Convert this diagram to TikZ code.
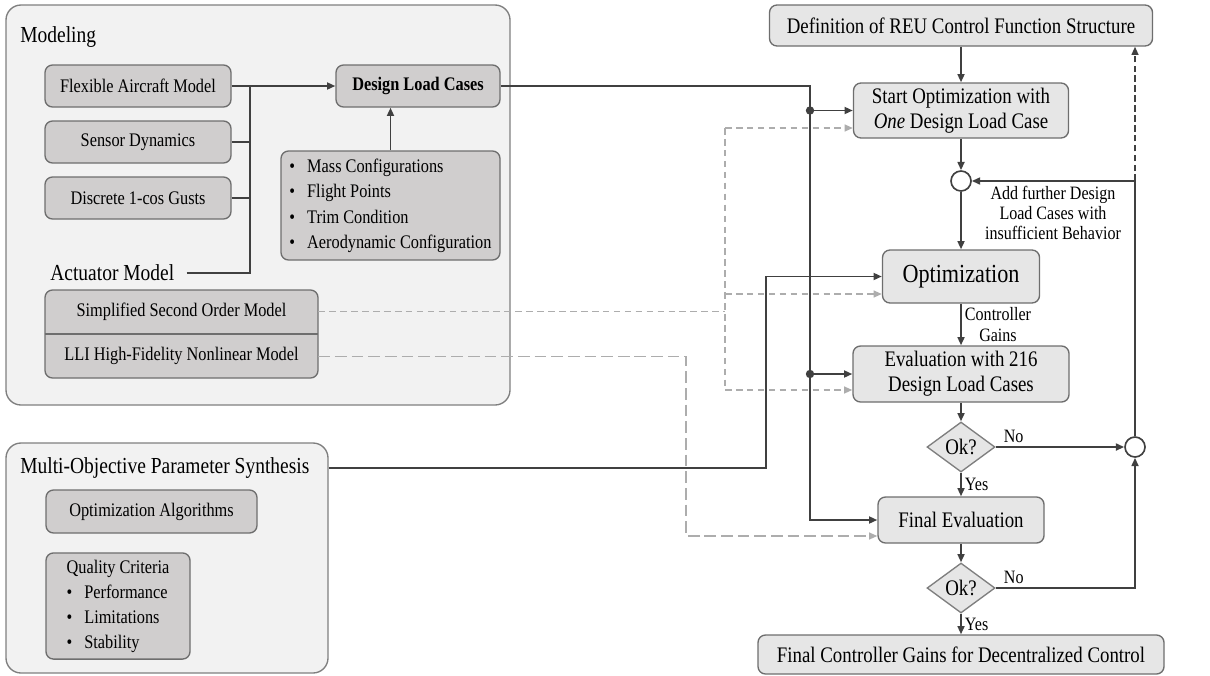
\documentclass[tikz,border=0pt]{standalone}
\usepackage{fontspec}
\setmainfont{Liberation Serif}[FakeStretch=0.85]
\usetikzlibrary{arrows.meta,shapes.geometric}

\newlength\pxu
\setlength\pxu{0.667pt}

\definecolor{framefill}{HTML}{F2F2F2}
\definecolor{framedraw}{HTML}{7F7F7F}
\definecolor{boxfill}{HTML}{D0CECE}
\definecolor{boxdraw}{HTML}{6E6E6E}
\definecolor{flowfill}{HTML}{E6E6E6}
\definecolor{linegray}{HTML}{404040}
\definecolor{lightline}{HTML}{ADADAD}

\newcommand\fsInner{\fontsize{12.8}{16.7}\selectfont}
\newcommand\fsFlow{\fontsize{14.8}{16.7}\selectfont}
\newcommand\fsHead{\fontsize{15.3}{18}\selectfont}
\newcommand\fsOpt{\fontsize{17.4}{20}\selectfont}
\newcommand\fsNote{\fontsize{12.6}{13.5}\selectfont}

\tikzset{
  frame/.style={draw=framedraw, fill=framefill, line width=0.9pt, rounded corners=10pt},
  inbox/.style={draw=boxdraw, fill=boxfill, line width=0.9pt, rounded corners=5pt, font=\fsInner, align=center, inner sep=2pt},
  flowbox/.style={draw=boxdraw, fill=flowfill, line width=0.9pt, rounded corners=5pt, font=\fsFlow, align=center, inner sep=2pt},
  decision/.style={diamond, draw=framedraw, fill=flowfill, line width=0.9pt, aspect=1.36, minimum width=68\pxu, minimum height=50\pxu, inner sep=0pt, font=\fsFlow},
  sumnode/.style={circle, draw=linegray, fill=white, line width=1.1pt, minimum size=20\pxu, inner sep=0pt},
  wire/.style={draw=linegray, line width=1.3pt},
  conn/.style={wire, -{Triangle[length=5.5pt,width=4.6pt]}},
  lightdash/.style={draw=lightline, line width=1.1pt, dash pattern=on 4.4pt off 2.9pt},
  lighttip/.style={-{Triangle[length=5.5pt,width=4.6pt]}},
  longdash/.style={draw=lightline, line width=1.1pt, dash pattern=on 7.8pt off 3.3pt},
  darkdash/.style={draw=linegray, line width=1.1pt, dash pattern=on 4.4pt off 2.2pt, -{Triangle[length=5.5pt,width=4.6pt]}},
  note/.style={font=\fsNote, inner sep=2pt}
}

\begin{document}
\begin{tikzpicture}[x=\pxu, y=-\pxu]
  \useasboundingbox (0,0) rectangle (1210,675);

  % modeling block
  \node[frame, minimum width=504\pxu, minimum height=400\pxu] (modframe) at (258,205) {};
  \node[font=\fsHead, anchor=west, inner sep=0pt] (modtitle) at (20,37) {Modeling};
  \node[inbox, minimum width=186\pxu, minimum height=42\pxu] (flexible) at (138,86) {Flexible Aircraft Model};
  \node[inbox, minimum width=186\pxu, minimum height=42\pxu] (sensor) at (138,142) {Sensor Dynamics};
  \node[inbox, minimum width=186\pxu, minimum height=42\pxu] (gusts) at (138,198) {Discrete 1-cos Gusts};
  \node[inbox, minimum width=164\pxu, minimum height=42\pxu, font=\fsInner\bfseries] (dlc) at (418,86) {Design Load Cases};
  \node[inbox, minimum width=219\pxu, minimum height=109\pxu] (params) at (390.5,205.5) {%
    \begin{tabular}{@{}l@{\hspace{8pt}}l@{}}
      \textbullet & Mass Configurations\\
      \textbullet & Flight Points\\
      \textbullet & Trim Condition\\
      \textbullet & Aerodynamic Configuration
    \end{tabular}};
  \node[font=\fsHead, anchor=west, inner sep=0pt] (acttitle) at (50,273) {Actuator Model};
  \node[inbox, minimum width=273\pxu, minimum height=88\pxu] (actbox) at (181.5,334) {};
  \node[font=\fsInner, minimum width=273\pxu, minimum height=44\pxu, inner sep=0pt, anchor=north] (simple) at (actbox.north) {Simplified Second Order Model};
  \node[font=\fsInner, minimum width=273\pxu, minimum height=44\pxu, inner sep=0pt, anchor=south] (lli) at (actbox.south) {LLI High-Fidelity Nonlinear Model};
  \draw[draw=boxdraw, line width=0.9pt] (simple.south west) -- (simple.south east);

  % synthesis block
  \node[frame, minimum width=322\pxu, minimum height=230\pxu] (mopsframe) at (167,558) {};
  \node[font=\fsHead, anchor=west, inner sep=0pt] (mopstitle) at (20,468) {Multi-Objective Parameter Synthesis};
  \node[inbox, minimum width=211\pxu, minimum height=43\pxu] (algos) at (151.5,511.5) {Optimization Algorithms};
  \node[inbox, minimum width=144\pxu, minimum height=106\pxu] (quality) at (118,606) {%
    \begin{tabular}{@{}l@{\hspace{8pt}}l@{}}
      \multicolumn{2}{@{}c@{}}{Quality Criteria}\\
      \textbullet & Performance\\
      \textbullet & Limitations\\
      \textbullet & Stability
    \end{tabular}};

  % optimization flow
  \node[flowbox, minimum width=383\pxu, minimum height=41\pxu] (define) at (961,25.5) {Definition of REU Control Function Structure};
  \node[flowbox, minimum width=215\pxu, minimum height=55\pxu] (start) at (961,110.5) {Start Optimization with\\\textit{One} Design Load Case};
  \node[sumnode] (sum1) at (961,181) {};
  \node[flowbox, minimum width=157\pxu, minimum height=53\pxu, font=\fsOpt] (optim) at (961,276.5) {Optimization};
  \node[flowbox, minimum width=216\pxu, minimum height=56\pxu] (evalbox) at (961,374) {Evaluation with 216\\Design Load Cases};
  \node[decision] (ok1) at (961,447) {Ok?};
  \node[sumnode] (sum2) at (1135,447) {};
  \node[flowbox, minimum width=166\pxu, minimum height=46\pxu] (finaleval) at (961,520) {Final Evaluation};
  \node[decision] (ok2) at (961,588) {Ok?};
  \node[flowbox, minimum width=406\pxu, minimum height=39\pxu] (final) at (961,654.5) {Final Controller Gains for Decentralized Control};
  \node[note, align=center] (addnote) at (1053,213) {Add further Design\\Load Cases with\\insufficient Behavior};

  % modeling connections
  \coordinate (bus) at (250,86);
  \coordinate (busend) at (250,273);
  \draw[conn] (flexible.east) -- (dlc.west);
  \draw[wire] (sensor.east) -- (sensor.east -| bus);
  \draw[wire] (gusts.east) -- (gusts.east -| bus);
  \draw[wire] ([xshift=8pt]acttitle.east) -- (busend) -- (bus);
  \draw[conn] (params.north) -- (params.north |- dlc.south);

  % load cases trunk
  \coordinate (trunk) at (810,86);
  \draw[conn] (dlc.east) -- (trunk) |- (finaleval.west);
  \fill[linegray] (start.west -| trunk) circle[radius=2.8pt];
  \draw[conn] (start.west -| trunk) -- (start.west);
  \fill[linegray] (evalbox.west -| trunk) circle[radius=2.8pt];
  \draw[conn] (evalbox.west -| trunk) -- (evalbox.west);

  % actuator models
  \coordinate (d1) at (725,128);
  \coordinate (d2) at (725,294);
  \coordinate (d3) at (725,390);
  \draw[lightdash] (simple.east) -- (simple.east -| d1);
  \draw[lightdash] (d1) -- (d3);
  \draw[lightdash, lighttip] (d1) -- (d1 -| start.west);
  \draw[lightdash, lighttip] (d2) -- (d2 -| optim.west);
  \draw[lightdash, lighttip] (d3) -- (d3 -| evalbox.west);
  \coordinate (lcorner) at (686,536);
  \draw[longdash, lighttip] (lli.east) -| (lcorner) -- (lcorner -| finaleval.west);

  % synthesis into optimization
  \coordinate (mcorner) at (766,276.5);
  \draw[conn] (mopsframe.east |- mopstitle) -| (mcorner) -- (optim.west);

  % flow
  \draw[conn] (define.south) -- (start.north);
  \draw[conn] (start.south) -- (sum1.north);
  \draw[conn] (sum1.south) -- (optim.north);
  \draw[conn] (optim.south) -- node[note, right, align=center] {Controller\\Gains} (evalbox.north);
  \draw[conn] (evalbox.south) -- (ok1.north);
  \draw[conn] (ok1.east) -- node[note, above, pos=0.14] {No} (sum2.west);
  \draw[conn] (ok1.south) -- node[note, right] {Yes} (finaleval.north);
  \draw[conn] (finaleval.south) -- (ok2.north);
  \draw[conn] (ok2.east) -| node[note, above, pos=0.065] {No} (sum2.south);
  \draw[conn] (ok2.south) -- node[note, right] {Yes} (final.north);

  % loop back
  \coordinate (loop) at (sum2 |- sum1);
  \draw[conn] (sum2.north) -- (loop) -- (sum1.east);
  \draw[darkdash] (loop) -- (loop |- define.south);
\end{tikzpicture}
\end{document}
